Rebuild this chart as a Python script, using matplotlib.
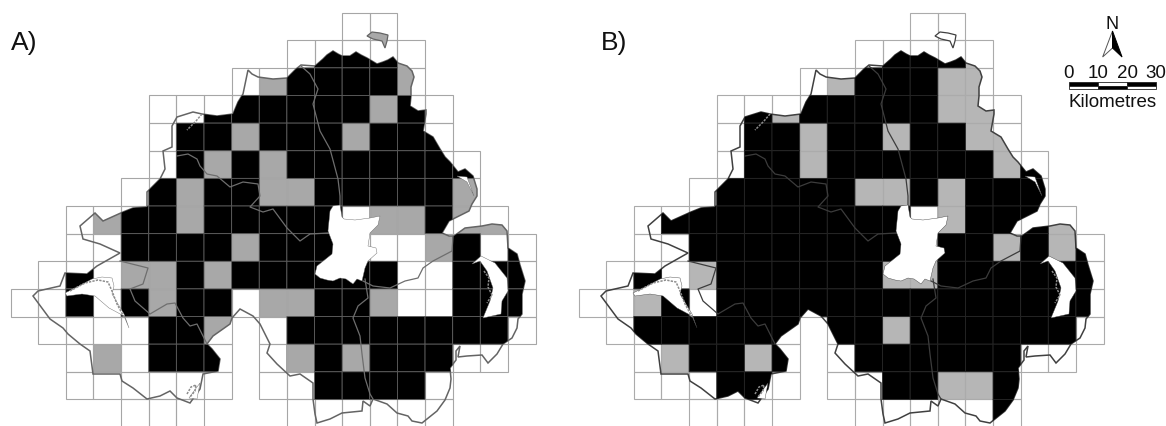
import matplotlib
matplotlib.use("Agg")
import matplotlib.pyplot as plt
from matplotlib.colors import ListedColormap
from matplotlib.patches import PathPatch, Polygon, Rectangle
from matplotlib.path import Path
import numpy as np

plt.rcParams["font.family"] = ["Liberation Sans", "DejaVu Sans"]

W, H = 1166, 427
GRID_X0, GRID_Y0, CELL = 10.6, 13.6, 27.63

# survey squares: ' ' not surveyed, '.' absent, 'G' grey class, 'K' black class
CELLS_A = [
    "            ..     ",
    "          .KKKG    ",
    "        .GKKKKG    ",
    "     ..KKKKKKGK.   ",
    "     .KKGKKKGKKK   ",
    "     .KGKGKKKKKKK  ",
    "    .KGKKGGKKKKKG  ",
    "  .GKKGKKKKK.GGKGG ",
    "  ..KKKKGKKK...GK.K",
    " .K.GGKGKKKKKK..KKK",
    "..K.KGKK.GGKKG..KKK",
    " ....KKG .KKKKKKKK.",
    "  .G.KKK .GKGKKK.. ",
    "  ...... ..KKKK.   ",
    "    ...   ......   ",
]
CELLS_B = [
    "            ..     ",
    "          .KKKG    ",
    "        .GKKKGG    ",
    "     .KGKKKKKGG.   ",
    "     .KKGKKGKKGG   ",
    "     .KKGKKKKKKGK  ",
    "    .KKKKKGGKGKKK  ",
    "  .KKKKKKKKK.GKKKG ",
    "  ..KKKKKKKK.KKGKGK",
    " .K.GKKKKKKGGKKKKKK",
    "..GK.KKKKKKKKKKKKKK",
    " .KKKKKK KKGKKKKKK.",
    "  .GKKGK .KKKKKK.. ",
    "  ...KK. ..KKGGK   ",
    "    ...   .....K   ",
]

# outlines
COAST = [
    (248, 71), (252, 75), (258, 78), (273, 80), (287, 79), (296, 70), (301, 66), (315, 67), (323, 60),
    (327, 56), (333, 52), (338, 55), (342, 57), (350, 57), (356, 53), (361, 56), (367, 59), (377, 65),
    (383, 63), (388, 61), (393, 58), (398, 64), (407, 67), (412, 72), (414, 78), (411, 88), (411, 97),
    (410, 107), (418, 112), (426, 111), (426, 115), (423, 132), (433, 138), (440, 150), (445, 158),
    (450, 163), (458, 173), (465, 170), (473, 177), (477, 190), (477, 197), (472, 205), (469, 212),
    (449, 222), (442, 234), (449, 237), (454, 237), (465, 229), (482, 227), (492, 225), (502, 226),
    (507, 232), (508, 249), (517, 255), (520, 266), (525, 282), (522, 295), (522, 315), (518, 320),
    (517, 329), (512, 339), (503, 345), (497, 355), (488, 364), (482, 356), (467, 357), (458, 358),
    (460, 347), (456, 352), (456, 361), (450, 369), (451, 380), (450, 389), (445, 401), (437, 412),
    (422, 424), (412, 422), (408, 417), (397, 414), (387, 405), (373, 400), (370, 407), (363, 402),
    (362, 412), (342, 414), (330, 420), (317, 424), (315, 415), (313, 400), (313, 384), (300, 375),
    (290, 377), (277, 365), (267, 354), (270, 345), (260, 325), (253, 317), (240, 310), (232, 319),
    (230, 325), (213, 337), (207, 345), (212, 350), (220, 360), (218, 372), (203, 375), (200, 390),
    (190, 404), (177, 399), (170, 392), (160, 397), (147, 400), (133, 389), (122, 382), (120, 375),
    (93, 375), (90, 352), (80, 345), (68, 335), (63, 329), (50, 320), (33, 297), (38, 292), (60, 287),
    (65, 274), (87, 275), (97, 267), (120, 254), (100, 245), (83, 240), (80, 227), (95, 214), (103, 222),
    (123, 213), (133, 209), (147, 208), (147, 193), (160, 180), (165, 170), (163, 152), (172, 148),
    (172, 127), (177, 118), (193, 113), (202, 115), (217, 117), (233, 115), (238, 103), (243, 95),
]
LOUGH_NEAGH = [
    (330, 212), (333, 207), (340, 206), (342, 218), (344, 220), (355, 221), (370, 219), (380, 217),
    (378, 226), (370, 234), (368, 247), (376, 249), (377, 254), (368, 262), (365, 269), (362, 282),
    (357, 280), (353, 285), (346, 280), (340, 279), (333, 282), (327, 281), (320, 279), (315, 275),
    (317, 267), (332, 255), (333, 245), (328, 232),
]
LOUGH_ERNE = [
    (65, 294), (79, 287), (92, 280), (102, 278), (112, 279), (114, 287), (112, 295), (124, 315),
    (129, 329), (124, 317), (109, 309), (95, 297), (82, 295), (67, 297),
]
UPPER_ERNE = [(189, 399), (194, 392), (200, 384), (197, 400)]
STRANGFORD = [
    (472, 265), (481, 257), (495, 264), (507, 279), (508, 292), (502, 302), (501, 315), (483, 319),
    (490, 302), (493, 289), (487, 272), (480, 262),
]
LARNE_LOUGH = [(457, 177), (467, 178), (474, 197), (467, 183)]
RATHLIN = [(367, 37), (372, 33), (380, 34), (388, 36), (387, 42), (385, 49), (382, 42), (373, 40)]

# island clusters, drawn as short thick grey strokes
ERNE_ISLANDS = [(70, 292), (85, 284), (98, 281), (108, 283), (112, 292), (117, 305), (124, 318)]
STRANGFORD_ISLANDS = [(484, 272), (489, 279), (488, 288), (492, 296), (487, 304)]
UPPER_ERNE_ISLANDS = [(187, 395), (191, 388), (196, 386), (195, 392), (190, 398)]
FOYLE_INLET = [(202, 115), (196, 122), (187, 131)]

RIVER_BANN = [(301, 67), (310, 75), (318, 90), (313, 105), (320, 132), (330, 150), (338, 180), (340, 197), (340, 207)]
DERRY_LINE = [
    (177, 157), (188, 155), (197, 160), (200, 167), (207, 175), (217, 177), (230, 188), (243, 183),
    (258, 185), (260, 197), (250, 208), (263, 213), (273, 210), (287, 229), (300, 242), (310, 235), (328, 234),
]
TYRONE_LINE = [
    (120, 262), (148, 269), (143, 285), (130, 290), (135, 302), (150, 315), (167, 305), (175, 304),
    (183, 319), (190, 327), (197, 325), (207, 345),
]
DOWN_LINE = [
    (365, 280), (368, 299), (358, 307), (353, 319), (360, 337), (362, 355), (365, 379), (370, 395), (373, 400),
]
LAGAN_LINE = [
    (363, 282), (373, 287), (390, 289), (405, 282), (418, 279), (423, 269), (433, 262), (452, 252), (453, 237),
]
COUNTY_LINES = [RIVER_BANN, DERRY_LINE, TYRONE_LINE, DOWN_LINE, LAGAN_LINE]

SCALE_KM = [0, 10, 20, 30]


def draw_panel(ax, cells, grey, grid_col, edge_on_black, coast_col, county_col, rathlin_fill):
    ax.set_axis_off()
    rows = np.array([list(r) for r in cells])
    xe = GRID_X0 + CELL * np.arange(rows.shape[1] + 1)
    ye = GRID_Y0 + CELL * np.arange(rows.shape[0] + 1)

    # coast sits under the black squares so they keep a clean edge
    land = PathPatch(Path(COAST + COAST[:1], closed=True), facecolor="none", edgecolor=coast_col,
                     linewidth=1.1, zorder=2.5)
    ax.add_patch(land)

    mesh = ax.pcolor(xe, ye, np.ma.masked_where(rows != "G", np.ones(rows.shape)),
                     cmap=ListedColormap([grey]), zorder=1)
    mesh.set_clip_path(land)

    for (r, c), v in np.ndenumerate(rows):
        if v != " ":
            ax.add_patch(Rectangle((xe[c], ye[r]), CELL, CELL, fill=False,
                                   edgecolor=grid_col, linewidth=0.8, zorder=2))

    black = ax.pcolor(xe, ye, np.ma.masked_where(rows != "K", np.ones(rows.shape)),
                      cmap=ListedColormap(["black"]), edgecolors=edge_on_black, linewidth=0.6, zorder=3)
    black.set_clip_path(land)

    for line in COUNTY_LINES:
        xs, ys = zip(*line)
        ax.plot(xs, ys, color=county_col, linewidth=0.9, zorder=4)

    for lough in [LOUGH_NEAGH, LOUGH_ERNE, UPPER_ERNE, STRANGFORD, LARNE_LOUGH]:
        ax.add_patch(Polygon(lough, closed=True, facecolor="white", edgecolor=coast_col,
                             linewidth=0.3, zorder=5))
    for line in [ERNE_ISLANDS, STRANGFORD_ISLANDS, UPPER_ERNE_ISLANDS, FOYLE_INLET]:
        xs, ys = zip(*line)
        ax.plot(xs, ys, color="#8c8c8c", linewidth=1.1, linestyle=(0, (1.5, 0.8)), zorder=5.5)
    ax.add_patch(Polygon(RATHLIN, closed=True, facecolor=rathlin_fill, edgecolor=coast_col,
                         linewidth=0.9, zorder=5))


fig = plt.figure(figsize=(W / 100, H / 100), dpi=100, facecolor="white")

# both maps share the digitised coordinates, panel B just sits 568 px further right
ax_a = fig.add_axes([0, 0, 568 / W, 1])
ax_a.set_xlim(0, 568)
ax_a.set_ylim(H, 0)
ax_b = fig.add_axes([568 / W, 0, (W - 568) / W, 1])
ax_b.set_xlim(0, W - 568)
ax_b.set_ylim(H, 0)

draw_panel(ax_a, CELLS_A, "#a8a8a8", "#a6a6a6", "#5e5e5e", "#646464", "#6e6e6e", "#a8a8a8")
draw_panel(ax_b, CELLS_B, "#b6b6b6", "#ababab", "#262626", "#404040", "#3c3c3c", "white")

fig.text(11 / W, 1 - 50 / H, "A)", fontsize=19, color="#111111")
fig.text(600.5 / W, 1 - 50 / H, "B)", fontsize=19, color="#111111")

# north arrow and scale bar in their own axes, x in km
ax_s = fig.add_axes([1060 / W, 1 - 115 / H, 105 / W, 105 / H])
ax_s.set_axis_off()
km_per_px = 30 / 87
ax_s.set_xlim(-9 * km_per_px, 96 * km_per_px)
ax_s.set_ylim(105, 0)
for a, b, top in zip(SCALE_KM[:-1], SCALE_KM[1:], ["black", "white", "black"]):
    low = "white" if top == "black" else "black"
    ax_s.add_patch(Rectangle((a, 73), b - a, 3.7, facecolor=top, edgecolor="#222222", linewidth=0.6))
    ax_s.add_patch(Rectangle((a, 76.7), b - a, 3.5, facecolor=low, edgecolor="#222222", linewidth=0.6))
for km in SCALE_KM:
    ax_s.text(km, 68, str(km), ha="center", va="baseline", fontsize=13.5, color="#111111")
ax_s.text(15, 97, "Kilometres", ha="center", va="baseline", fontsize=13.5, color="#111111")
ax_s.text(15, 19, "N", ha="center", va="baseline", fontsize=13, color="#111111")
ax_s.add_patch(Polygon([(15, 22), (15, 39), (11.6, 48)], closed=True, facecolor="white",
                       edgecolor="#555555", linewidth=0.7))
ax_s.add_patch(Polygon([(15, 22), (15, 39), (18.3, 48)], closed=True, facecolor="black",
                       edgecolor="black", linewidth=0.7))

fig.savefig("out.png", dpi=100, facecolor="white")
plt.close(fig)
